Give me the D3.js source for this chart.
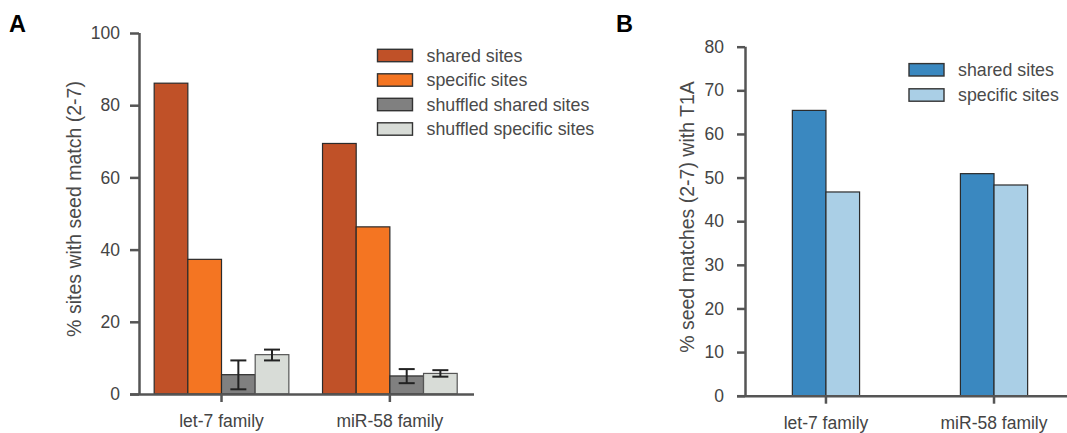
<!DOCTYPE html>
<html>
<head>
<meta charset="utf-8">
<script src="https://cdn.jsdelivr.net/npm/d3@7"></script>
<style>
  html, body { margin: 0; padding: 0; background: #fff; }
  svg { display: block; font-family: "Liberation Sans", Arial, Helvetica, sans-serif; }
  .axis path, .axis line { stroke: #555; stroke-width: 2.5; }
  .axis text { fill: #444; font-size: 17.5px; }
</style>
</head>
<body>
<svg id="chart" width="1067" height="433"></svg>
<script>
// Families on the x axis (shared by both panels)
const categories = ["let-7 family", "miR-58 family"];

// Panel A: % sites with a 2-7 seed match
const seriesA = ["shared sites", "specific sites", "shuffled shared sites", "shuffled specific sites"];
const sharedA = [86.1, 69.4];
const specificA = [37.3, 46.3];
const shuffledSharedA = [5.35, 5.0];
const shuffledSpecificA = [10.9, 5.7];
// error-bar bounds for the shuffled controls
const shuffledSharedLo = [1.3, 3.0];
const shuffledSharedHi = [9.3, 6.9];
const shuffledSpecificLo = [9.3, 4.8];
const shuffledSpecificHi = [12.3, 6.6];
const ticksA = [0, 20, 40, 60, 80, 100];
const colorsA = ["#c05128", "#f47522", "#808080", "#d8dcd7"];

// Panel B: % seed matches (2-7) with T1A
const seriesB = ["shared sites", "specific sites"];
const sharedB = [65.4, 50.9];
const specificB = [46.7, 48.3];
const ticksB = [0, 10, 20, 30, 40, 50, 60, 70, 80];
const colorsB = ["#3a88c0", "#aacfe6"];

const svg = d3.select("#chart");

function panel(opts) {
  const g = svg.append("g");
  const x0 = d3.scaleBand().domain(categories)
    .range([opts.left, opts.right])
    .paddingInner(opts.padIn).paddingOuter(opts.padOut).align(opts.align);
  const x1 = d3.scaleBand().domain(opts.series).range([0, x0.bandwidth()]);
  const y = d3.scaleLinear().domain([0, opts.max]).range([opts.bottom, opts.top]);

  // bars
  opts.series.forEach((s, si) => {
    g.selectAll(null).data(categories).enter().append("rect")
      .attr("x", c => x0(c) + x1(s))
      .attr("y", (c, i) => y(opts.values[si][i]))
      .attr("width", x1.bandwidth())
      .attr("height", (c, i) => y(0) - y(opts.values[si][i]))
      .attr("fill", opts.colors[si])
      .attr("stroke", si === 3 ? "#555" : "#2b2b2b")
      .attr("stroke-width", 1.2);
  });

  // error bars
  (opts.errors || []).forEach(e => {
    const s = opts.series[e.series];
    categories.forEach((c, i) => {
      const cx = x0(c) + x1(s) + x1.bandwidth() / 2;
      const eg = g.append("g").attr("stroke", "#222").attr("stroke-width", 2);
      eg.append("line").attr("x1", cx).attr("x2", cx).attr("y1", y(e.lo[i])).attr("y2", y(e.hi[i]));
      [e.lo[i], e.hi[i]].forEach(v => {
        eg.append("line").attr("x1", cx - 8).attr("x2", cx + 8).attr("y1", y(v)).attr("y2", y(v));
      });
    });
  });

  // axes
  const yAxis = g.append("g").attr("class", "axis")
    .attr("transform", `translate(${opts.left},0)`)
    .call(d3.axisLeft(y).tickValues(opts.ticks).tickSize(opts.tickY).tickSizeOuter(0).tickPadding(opts.padY));
  const xAxis = g.append("g").attr("class", "axis")
    .attr("transform", `translate(0,${opts.bottom})`)
    .call(d3.axisBottom(x0).tickSize(8).tickSizeOuter(0).tickPadding(13));
  xAxis.select(".domain").attr("d", `M${opts.left - opts.tickY},0.5H${opts.axisEnd}`);
  yAxis.select(".domain").attr("d", `M0.5,${opts.bottom}V${opts.top}`);

  // y-axis title
  g.append("text")
    .attr("transform", `translate(${opts.titleX},${opts.titleY}) rotate(-90)`)
    .attr("text-anchor", "middle").attr("dy", "0.35em")
    .attr("fill", "#4a4a4a").style("font-size", "19.5px")
    .text(opts.title);

  // legend
  opts.series.forEach((s, si) => {
    const ly = opts.legendY + si * opts.legendStep;
    g.append("rect").attr("x", opts.legendX).attr("y", ly - 6.2)
      .attr("width", 35).attr("height", 12.4)
      .attr("fill", opts.colors[si]).attr("stroke", "#333").attr("stroke-width", 1.4);
    g.append("text").attr("x", opts.legendX + 49).attr("y", ly).attr("dy", "0.35em")
      .attr("fill", "#4a4a4a").style("font-size", "17.8px").text(s);
  });

  // panel letter
  g.append("text").attr("x", opts.letterX).attr("y", 31.7)
    .attr("fill", "#000").style("font-size", "23.5px").style("font-weight", "bold")
    .text(opts.letter);
}

panel({
  letter: "A", letterX: 9, left: 139, right: 473, axisEnd: 474, top: 33, bottom: 394,
  padIn: 0.2, padOut: 0.092, align: 0.49, max: 100, ticks: ticksA, tickY: 9, padY: 10,
  series: seriesA, colors: colorsA,
  values: [sharedA, specificA, shuffledSharedA, shuffledSpecificA],
  errors: [
    { series: 2, lo: shuffledSharedLo, hi: shuffledSharedHi },
    { series: 3, lo: shuffledSpecificLo, hi: shuffledSpecificHi }
  ],
  title: "% sites with seed match (2-7)", titleX: 74, titleY: 209,
  legendX: 377.5, legendY: 55.5, legendStep: 24.5
});

panel({
  letter: "B", letterX: 616, left: 745, right: 1067, axisEnd: 1067, top: 46.7, bottom: 395.7,
  padIn: 0.6, padOut: 0.258, align: 0.546, max: 80, ticks: ticksB, tickY: 8, padY: 13,
  series: seriesB, colors: colorsB,
  values: [sharedB, specificB],
  title: "% seed matches (2-7) with T1A", titleX: 687, titleY: 217,
  legendX: 909, legendY: 69.8, legendStep: 25.2
});
</script>
</body>
</html>
